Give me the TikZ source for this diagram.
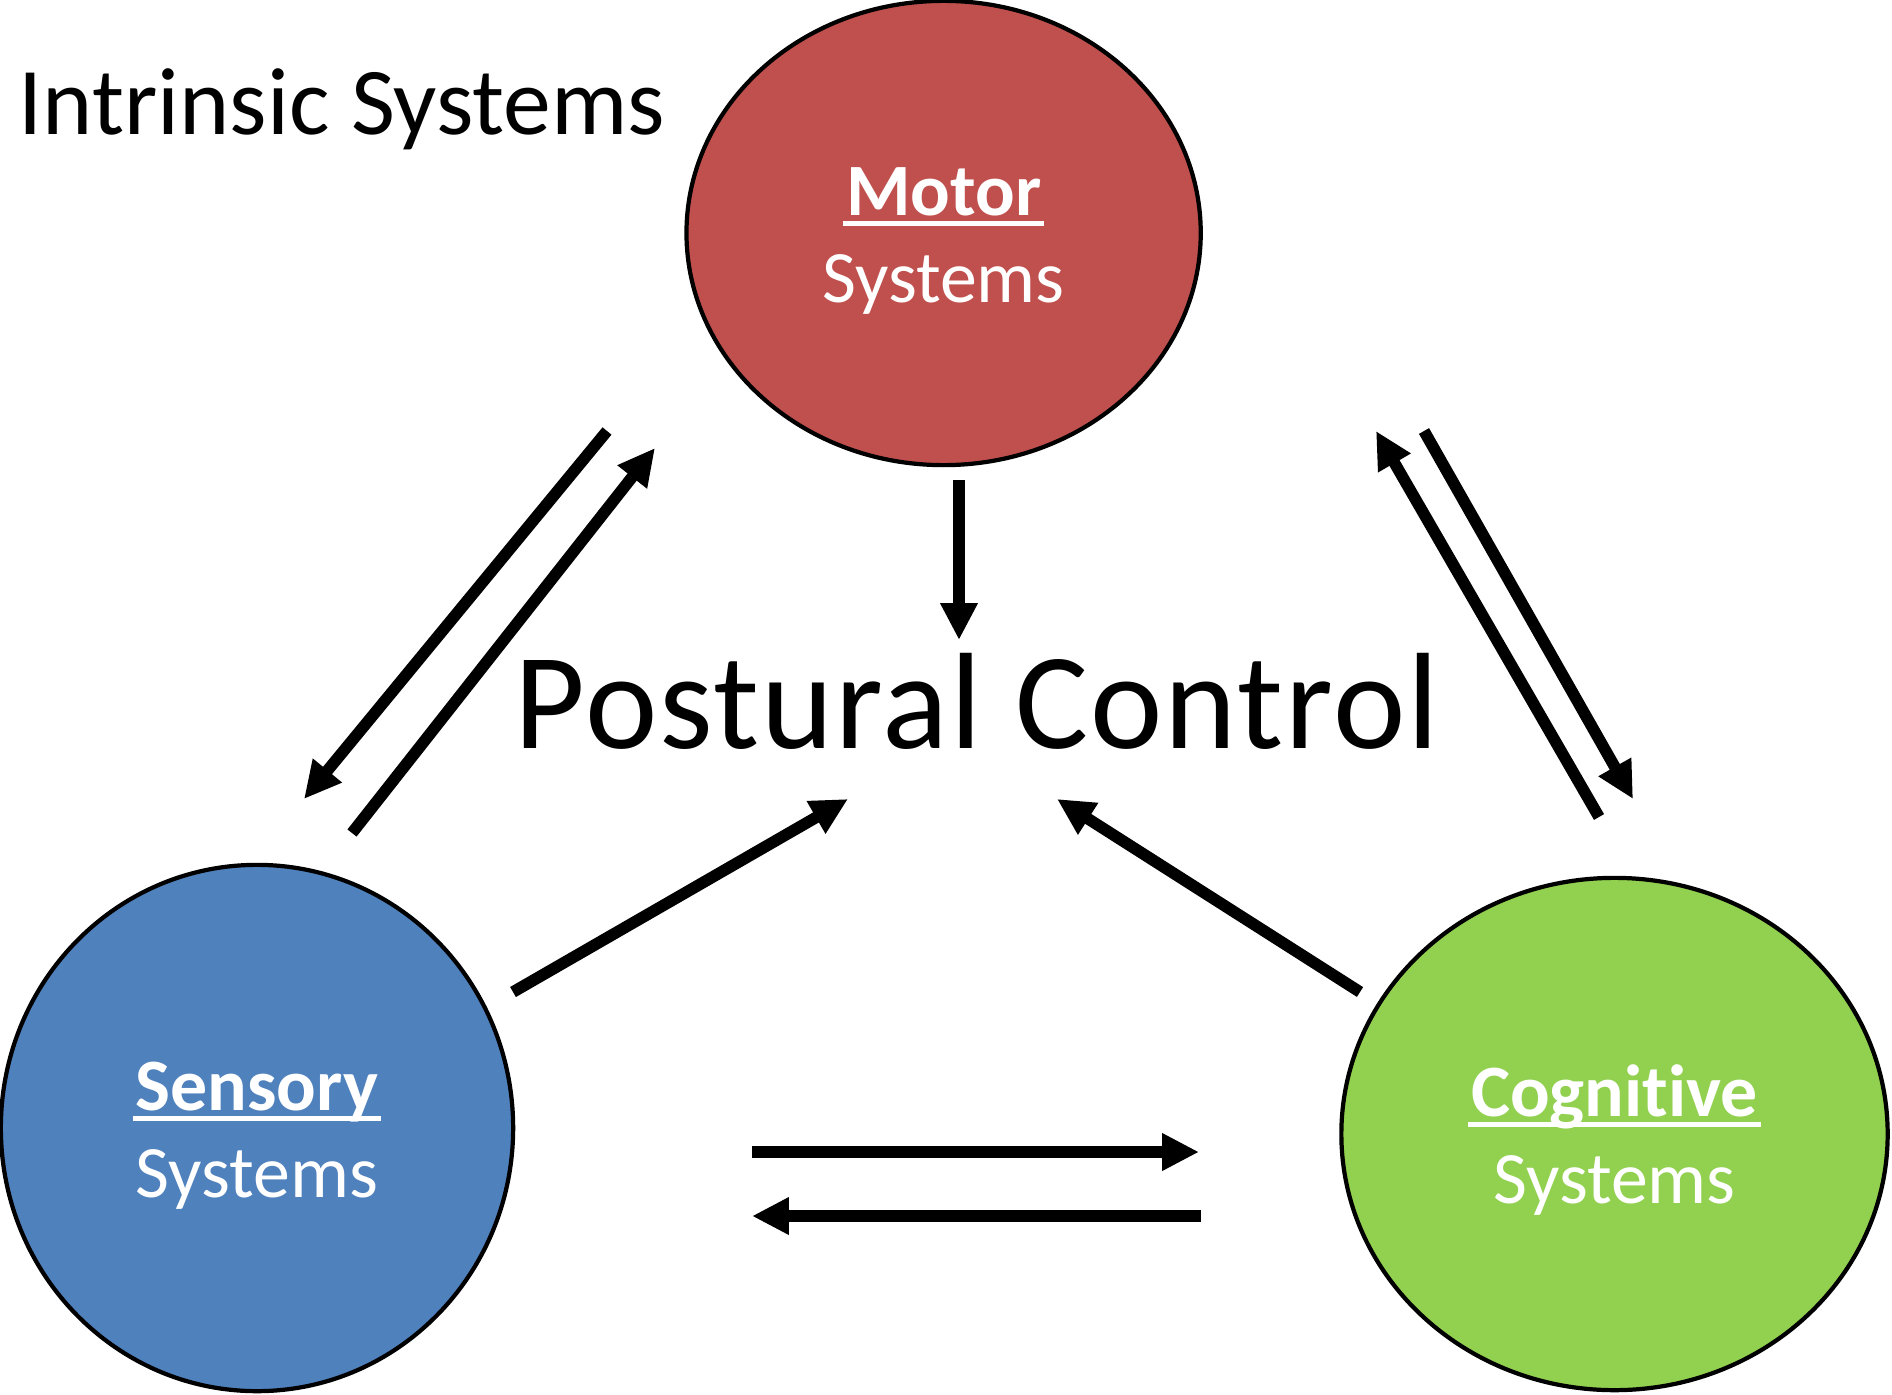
\documentclass[tikz,border=0pt]{standalone}
\usepackage{fontspec}
\setmainfont{Carlito}[Ligatures=NoCommon]
\usetikzlibrary{shapes.geometric,arrows.meta}

\definecolor{motorred}{RGB}{192,80,77}
\definecolor{sensoryblue}{RGB}{79,129,189}
\definecolor{cognitivegreen}{RGB}{146,208,80}

\newsavebox{\ulbox}
\newcommand{\sysul}[1]{\sbox{\ulbox}{#1}\leavevmode\rlap{\hspace{-0.9pt}\rule[-3pt]{\dimexpr\wd\ulbox+1.8pt\relax}{1.35pt}}\usebox{\ulbox}}
\newcommand{\systext}[1]{\rule{0pt}{18pt}\sysul{\bfseries #1}\\Systems}

\tikzset{
	sysnode/.style={ellipse, draw, line width=1.2pt, inner sep=0pt, text=white, align=center, font=\fontsize{21}{24.7}\selectfont},
	flow/.style={line width=3.3pt, -{Triangle[length=10.5pt, width=10pt]}}
}

\begin{document}
\begin{tikzpicture}[x=0.01cm, y=-0.01cm]
	
	\useasboundingbox (0,0) rectangle (1892,1394);
	
	\node[sysnode, fill=motorred, minimum width=5.14cm, minimum height=4.64cm] (motor) at (943.6,233) {\systext{Motor}};
	\node[sysnode, fill=sensoryblue, minimum width=5.12cm, minimum height=5.26cm] (sensory) at (257,1128) {\systext{Sensory}};
	\node[sysnode, fill=cognitivegreen, minimum width=5.46cm, minimum height=5.12cm] (cognitive) at (1614.5,1134) {\systext{Cognitive}};
	
	\node[anchor=base west, inner sep=0pt, font=\fontsize{27.2}{32}\selectfont] (intrinsic) at (18,134) {Intrinsic Systems};
	\node[anchor=base, inner sep=0pt, font=\fontsize{39}{44}\selectfont\addfontfeatures{LetterSpace=1.5}] (postural) at (977,748) {Postural Control};
	
	\coordinate (mp1) at (959,480);
	\coordinate (mp2) at (959,640);
	\coordinate (sp1) at (513,992);
	\coordinate (sp2) at (848,799);
	\coordinate (cp1) at (1360,992);
	\coordinate (cp2) at (1057,799);
	\coordinate (ms1) at (607,431);
	\coordinate (ms2) at (304,799);
	\coordinate (sm1) at (352,833);
	\coordinate (sm2) at (655,448);
	\coordinate (cm1) at (1599,817);
	\coordinate (cm2) at (1376,431);
	\coordinate (mc1) at (1424,431);
	\coordinate (mc2) at (1633,799);
	\coordinate (sc1) at (752,1152);
	\coordinate (sc2) at (1199,1152);
	\coordinate (cs1) at (1201,1216);
	\coordinate (cs2) at (752,1216);
	
	\draw[flow] (mp1) -- (mp2);
	\draw[flow] (sp1) -- (sp2);
	\draw[flow] (cp1) -- (cp2);
	\draw[flow] (ms1) -- (ms2);
	\draw[flow] (sm1) -- (sm2);
	\draw[flow] (cm1) -- (cm2);
	\draw[flow] (mc1) -- (mc2);
	\draw[flow] (sc1) -- (sc2);
	\draw[flow] (cs1) -- (cs2);
	
\end{tikzpicture}
\end{document}
